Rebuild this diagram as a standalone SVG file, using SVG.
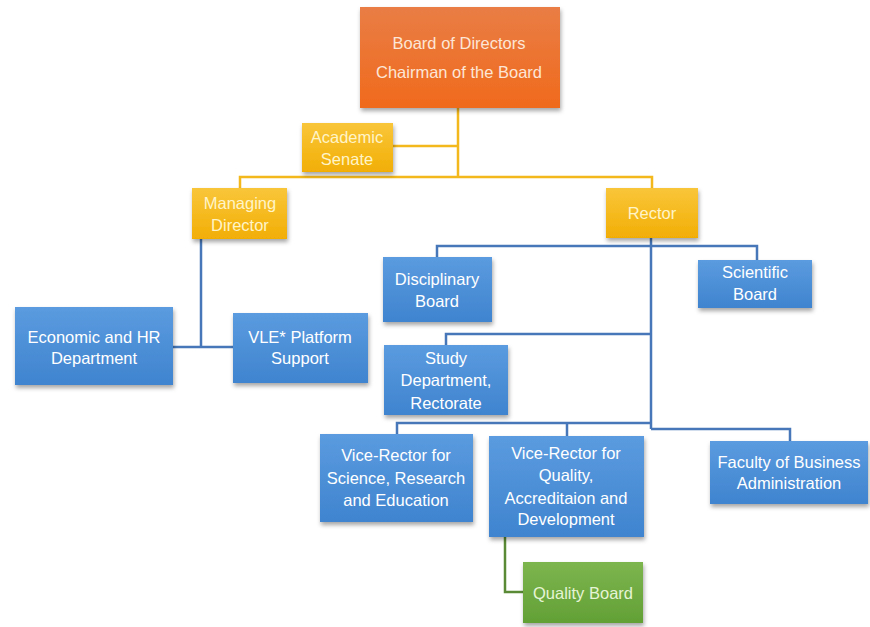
<svg xmlns="http://www.w3.org/2000/svg" width="870" height="627" viewBox="0 0 870 627">
<defs>
<linearGradient id="gOr" x1="0" y1="0" x2="0" y2="1"><stop offset="0" stop-color="#E97D45"/><stop offset="1" stop-color="#F06A1C"/></linearGradient>
<linearGradient id="gYe" x1="0" y1="0" x2="0" y2="1"><stop offset="0" stop-color="#F9C63A"/><stop offset="1" stop-color="#F2AE05"/></linearGradient>
<linearGradient id="gBl" x1="0" y1="0" x2="0" y2="1"><stop offset="0" stop-color="#5B9BDF"/><stop offset="1" stop-color="#3F84CF"/></linearGradient>
<linearGradient id="gGr" x1="0" y1="0" x2="0" y2="1"><stop offset="0" stop-color="#7DB54E"/><stop offset="1" stop-color="#62A035"/></linearGradient>
<filter id="sh" x="-10%" y="-10%" width="125%" height="130%"><feDropShadow dx="1" dy="3" stdDeviation="2" flood-color="#000" flood-opacity="0.35"/></filter>
</defs>
<style>
text{font-family:"Liberation Sans",Arial,sans-serif;font-size:16.5px;text-anchor:middle;dominant-baseline:central}
.or rect{fill:url(#gOr);filter:url(#sh)}
.ye rect{fill:url(#gYe);filter:url(#sh)}
.bl rect{fill:url(#gBl);filter:url(#sh)}
.gr rect{fill:url(#gGr);filter:url(#sh)}
.or text{fill:#FDE6D6}
.ye text{fill:#FFF4C8}
.bl text{fill:#FFFFFF}
.gr text{fill:#E6F4D6}
.cy{stroke:#F2B81C;stroke-width:2.5;fill:none}
.cb{stroke:#4777B8;stroke-width:2.5;fill:none}
.cg{stroke:#5A8A35;stroke-width:2.5;fill:none}
</style>
<rect width="870" height="627" fill="#FFFFFF"/>
<g id="connectors">
<path class="cy" d="M458 108V177M393 146H458M240 188V177H652V188"/>
<path class="cb" d="M201 239V347M173 347H233"/>
<path class="cb" d="M651 238V429M437 257V246H757V260M446 345V334H651M397 434V423H651M567 436V423M651 429H790V441"/>
<path class="cg" d="M505 537V592H523"/>
</g>
<g id="board" class="or"><rect x="360" y="7" width="200" height="101"/><text x="459" y="43">Board of Directors</text><text x="459" y="72">Chairman of the Board</text></g>
<g id="senate" class="ye"><rect x="302" y="123" width="91" height="49"/><text x="347" y="137">Academic</text><text x="347" y="159">Senate</text></g>
<g id="managing" class="ye"><rect x="192" y="188" width="95" height="51"/><text x="240" y="203">Managing</text><text x="240" y="225">Director</text></g>
<g id="rector" class="ye"><rect x="606" y="188" width="92" height="50"/><text x="652" y="213">Rector</text></g>
<g id="economic" class="bl"><rect x="15" y="307" width="158" height="78"/><text x="94" y="337">Economic and HR</text><text x="94" y="358">Department</text></g>
<g id="vle" class="bl"><rect x="233" y="313" width="135" height="70"/><text x="300" y="337">VLE* Platform</text><text x="300" y="358">Support</text></g>
<g id="disciplinary" class="bl"><rect x="383" y="257" width="109" height="65"/><text x="437" y="279">Disciplinary</text><text x="437" y="301">Board</text></g>
<g id="scientific" class="bl"><rect x="698" y="260" width="114" height="48"/><text x="755" y="272">Scientific</text><text x="755" y="294">Board</text></g>
<g id="study" class="bl"><rect x="384" y="345" width="124" height="70"/><text x="446" y="358">Study</text><text x="446" y="380">Department,</text><text x="446" y="403">Rectorate</text></g>
<g id="vrscience" class="bl"><rect x="320" y="434" width="153" height="88"/><text x="396" y="455">Vice-Rector for</text><text x="396" y="478">Science, Research</text><text x="396" y="500">and Education</text></g>
<g id="vrquality" class="bl"><rect x="489" y="436" width="155" height="101"/><text x="566" y="453">Vice-Rector for</text><text x="566" y="475">Quality,</text><text x="566" y="498">Accreditaion and</text><text x="566" y="519">Development</text></g>
<g id="faculty" class="bl"><rect x="710" y="441" width="158" height="63"/><text x="789" y="462">Faculty of Business</text><text x="789" y="483">Administration</text></g>
<g id="quality" class="gr"><rect x="523" y="562" width="120" height="61"/><text x="583" y="593">Quality Board</text></g>
</svg>
